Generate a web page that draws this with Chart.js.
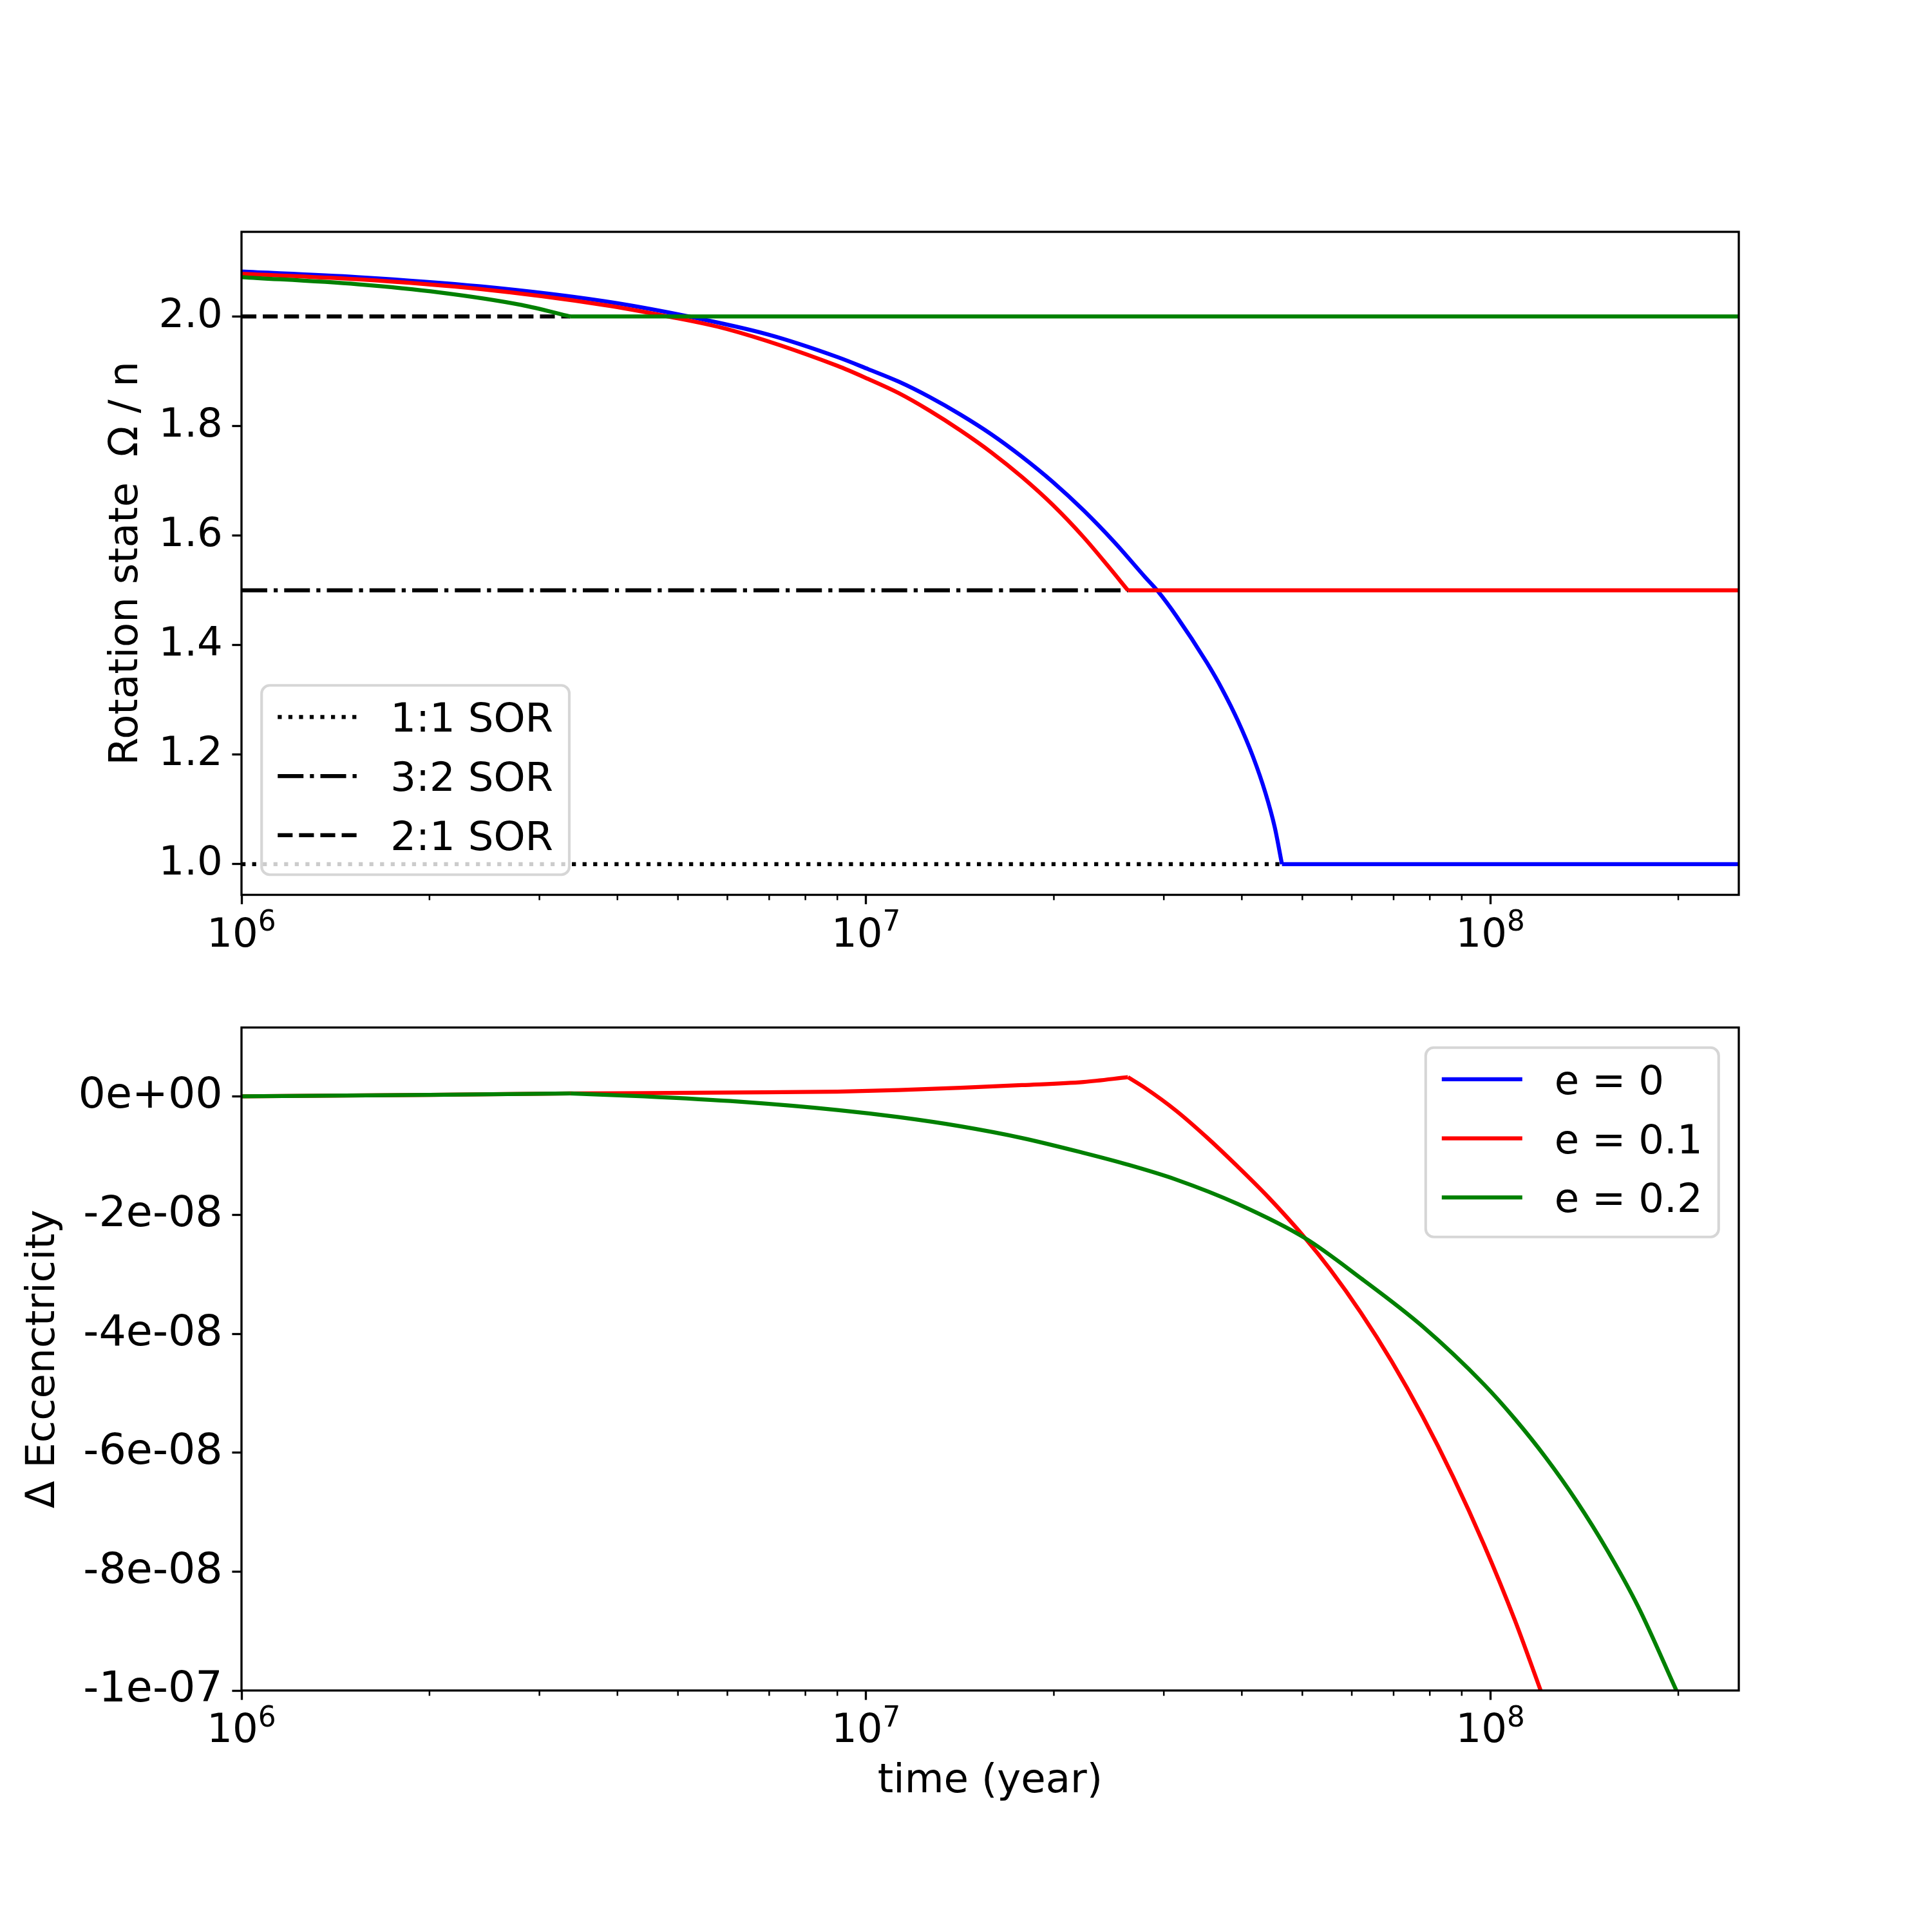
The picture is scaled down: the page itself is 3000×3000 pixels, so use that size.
<!DOCTYPE html>
<html>
<head>
<meta charset="utf-8">
<script src="https://cdn.jsdelivr.net/npm/chart.js@4.4.1/dist/chart.umd.min.js"></script>
<style>
  html, body { margin: 0; padding: 0; background: #fff; }
  #wrap { position: relative; width: 3000px; height: 3000px; background: #fff; }
  canvas { position: absolute; left: 0; }
</style>
</head>
<body>
<div id="wrap">
  <canvas id="rotChart" width="3000" height="1500" style="top:0"></canvas>
  <canvas id="eccChart" width="3000" height="1500" style="top:1500px"></canvas>
</div>
<script>
// ---- rotation state (top panel) ----
const blueTime  = [1e6, 1.533e6, 2.415e6, 3.805e6, 5.152e6, 6.975e6, 9.0e6, 1.008e7, 1.129e7, 1.265e7, 1.417e7, 1.588e7, 1.778e7, 1.992e7, 2.232e7, 2.5e7, 2.801e7, 2.932e7, 3.138e7, 3.516e7, 3.722e7, 3.938e7, 4.169e7, 4.364e7, 4.515e7, 4.638e7, 2.5e8];
const blueRot   = [2.082, 2.072, 2.055, 2.028, 2.001, 1.967, 1.926, 1.904, 1.881, 1.853, 1.821, 1.785, 1.744, 1.698, 1.646, 1.588, 1.524, 1.499, 1.454, 1.368, 1.319, 1.263, 1.196, 1.130, 1.068, 1.0, 1.0];
const blueBreaks = [25];   // capture into 1:1

const redTime   = [1e6, 1.533e6, 2.415e6, 3.805e6, 4.775e6, 5.995e6, 9.0e6, 1.008e7, 1.129e7, 1.265e7, 1.417e7, 1.588e7, 1.778e7, 1.992e7, 2.232e7, 2.444e7, 2.628e7, 2.5e8];
const redRot    = [2.078, 2.068, 2.050, 2.021, 2.001, 1.977, 1.910, 1.886, 1.860, 1.828, 1.792, 1.752, 1.707, 1.656, 1.597, 1.544, 1.5, 1.5];
const redBreaks = [16];    // capture into 3:2

const greenTime = [1e6, 1.533e6, 2.076e6, 2.811e6, 3.362e6, 2.5e8];
const greenRot  = [2.072, 2.059, 2.044, 2.021, 2.0, 2.0];
const greenBreaks = [4];   // capture into 2:1

// spin-orbit resonance levels
const sor11Time = [1e6, 4.638e7], sor11Rot = [1.0, 1.0];
const sor32Time = [1e6, 2.628e7], sor32Rot = [1.5, 1.5];
const sor21Time = [1e6, 3.362e6], sor21Rot = [2.0, 2.0];

// ---- delta eccentricity (bottom panel) ----
const eccBlueTime  = [];
const eccBlue      = [];
const eccRedTime   = [1e6, 2e6, 3.362e6, 4.41e6, 6.27e6, 9.0e6, 1.129e7, 1.417e7, 1.778e7, 2.232e7, 2.628e7, 2.801e7, 3.138e7, 3.516e7, 3.938e7, 4.413e7, 5.056e7, 5.537e7, 6.203e7, 6.95e7, 7.785e7, 8.724e7, 9.772e7, 1.095e8, 1.204e8];
const eccRed       = [0, 2.5e-10, 5e-10, 5.5e-10, 6.5e-10, 8.0e-10, 1.07e-9, 1.43e-9, 1.89e-9, 2.42e-9, 3.23e-9, 1.40e-9, -2.40e-9, -6.9e-9, -1.18e-8, -1.70e-8, -2.39e-8, -2.91e-8, -3.64e-8, -4.46e-8, -5.38e-8, -6.41e-8, -7.55e-8, -8.82e-8, -1.0e-7];
const eccRedBreaks = [10];
const eccGreenTime = [1e6, 2e6, 3.362e6, 4.41e6, 6.27e6, 9.0e6, 1.129e7, 1.417e7, 1.778e7, 2.232e7, 2.628e7, 3.138e7, 3.938e7, 5.056e7, 6.203e7, 7.785e7, 9.772e7, 1.095e8, 1.227e8, 1.374e8, 1.539e8, 1.725e8, 1.986e8];
const eccGreen     = [0, 2.5e-10, 5e-10, 0, -9e-10, -2.3e-9, -3.5e-9, -5.04e-9, -7.01e-9, -9.52e-9, -1.15e-8, -1.40e-8, -1.81e-8, -2.39e-8, -3.06e-8, -3.87e-8, -4.85e-8, -5.43e-8, -6.08e-8, -6.81e-8, -7.64e-8, -8.59e-8, -1.0e-7];
const eccGreenBreaks = [2];

// ticks
const decadeTicks = [1e6, 1e7, 1e8];
const rotTicks = [1.0, 1.2, 1.4, 1.6, 1.8, 2.0];
const eccTicks = [0, -2e-8, -4e-8, -6e-8, -8e-8, -1e-7];

const FS = 62.5;   // 15pt at 300 dpi
const LW = 6.25;   // 1.5pt
const FONT = '"DejaVu Sans"';

Chart.defaults.font.family = FONT;
Chart.defaults.font.size = FS;
Chart.defaults.color = '#000';

const pts = (xs, ys) => xs.map((x, i) => ({x: x, y: ys[i]}));

const line = (label, xs, ys, color, extra) => Object.assign({
    label: label,
    data: pts(xs, ys),
    borderColor: color,
    backgroundColor: color,
    borderWidth: LW,
    pointRadius: 0,
    cubicInterpolationMode: 'monotone',
    fill: false,
    borderJoinStyle: 'round',
    clip: 0
}, extra || {});

// one series split at its kinks so the smoothing keeps the corners sharp
function series(label, xs, ys, breaks, color, extra) {
    const cuts = [0].concat(breaks, [xs.length - 1]);
    const out = [];
    for (let k = 0; k < cuts.length - 1; k++) {
        const a = cuts[k], b = cuts[k + 1];
        out.push(line(label, xs.slice(a, b + 1), ys.slice(a, b + 1), color, extra));
    }
    return out;
}

// spines, minor ticks, 10^n labels and the legend box
const frame = {
    id: 'frame',
    afterDatasetsDraw(chart, args, opts) {
        const ctx = chart.ctx;
        const a = chart.chartArea;
        const x = chart.scales.x;
        ctx.save();
        ctx.strokeStyle = '#000';
        ctx.lineWidth = 2.5;
        ctx.beginPath();
        for (let d = 6; d <= 8; d++) {
            for (let m = 2; m <= 9; m++) {
                const v = m * Math.pow(10, d);
                if (v > x.max) continue;
                const px = x.getPixelForValue(v);
                ctx.moveTo(px, a.bottom);
                ctx.lineTo(px, a.bottom + 8.33);
            }
        }
        ctx.stroke();

        ctx.fillStyle = '#000';
        ctx.textBaseline = 'alphabetic';
        ctx.textAlign = 'left';
        decadeTicks.forEach(v => {
            const n = String(Math.round(Math.log10(v)));
            const px = x.getPixelForValue(v);
            ctx.font = FS + 'px ' + FONT;
            const w1 = ctx.measureText('10').width;
            ctx.font = (FS * 0.7) + 'px ' + FONT;
            const w2 = ctx.measureText(n).width;
            const x0 = px - (w1 + w2) / 2;
            ctx.font = FS + 'px ' + FONT;
            ctx.fillText('10', x0, a.bottom + 80);
            ctx.font = (FS * 0.7) + 'px ' + FONT;
            ctx.fillText(n, x0 + w1, a.bottom + 55.7);
        });

        ctx.lineWidth = 3.33;
        ctx.strokeRect(a.left, a.top, a.right - a.left, a.bottom - a.top);

        const lg = opts.legend;
        if (lg) {
            ctx.font = FS + 'px ' + FONT;
            const ds = lg.items.map(name => chart.data.datasets.find(d => d.label === name));
            const textW = Math.max(...ds.map(d => ctx.measureText(d.label).width));
            const pad = 0.4 * FS, hl = 2 * FS, htp = 0.8 * FS, rowH = 0.968 * FS, sp = 0.5 * FS, axp = 0.5 * FS;
            const w = 2 * pad + hl + htp + textW;
            const h = 2 * pad + ds.length * rowH + (ds.length - 1) * sp;
            let left, top;
            if (lg.corner === 'lowerleft') {
                left = a.left + axp; top = a.bottom - axp - h;
            } else {
                left = a.right - axp - w; top = a.top + axp;
            }
            ctx.beginPath();
            ctx.roundRect(left, top, w, h, 0.2 * FS);
            ctx.fillStyle = 'rgba(255,255,255,0.8)';
            ctx.fill();
            ctx.lineWidth = 4.17;
            ctx.strokeStyle = 'rgba(204,204,204,0.8)';
            ctx.stroke();
            ds.forEach((d, i) => {
                const rowTop = top + pad + i * (rowH + sp);
                const ly = rowTop + 24;
                ctx.beginPath();
                ctx.setLineDash(d.borderDash || []);
                ctx.strokeStyle = d.borderColor;
                ctx.lineWidth = d.borderWidth;
                ctx.moveTo(left + pad, ly);
                ctx.lineTo(left + pad + hl, ly);
                ctx.stroke();
                ctx.setLineDash([]);
                ctx.fillStyle = '#000';
                ctx.fillText(d.label, left + pad + hl + htp, rowTop + 47);
            });
        }
        ctx.restore();
    }
};

const tickGrid = { drawOnChartArea: false, drawTicks: true, tickLength: 14.6, tickWidth: 3.33, tickColor: '#000' };

function xAxis(height, title) {
    return {
        type: 'logarithmic',
        min: 1e6,
        max: 2.5e8,
        afterBuildTicks: s => { s.ticks = decadeTicks.map(v => ({value: v})); },
        afterFit: s => { s.height = height; },
        grid: tickGrid,
        border: { display: false },
        ticks: { callback: () => '', autoSkip: false, maxRotation: 0 },
        title: title || { display: false }
    };
}

function yAxis(min, max, ticks, fmt, fontSize, title, titlePad) {
    return {
        type: 'linear',
        min: min,
        max: max,
        afterBuildTicks: s => { s.ticks = ticks.map(v => ({value: v})); },
        afterFit: s => { s.width = 375; },
        grid: tickGrid,
        border: { display: false },
        ticks: { padding: 14.6, callback: fmt, font: { size: fontSize } },
        title: { display: true, text: title, font: { size: FS }, padding: { top: titlePad, bottom: 0 } }
    };
}

const common = {
    responsive: false,
    animation: false,
    devicePixelRatio: 1,
    events: []
};

new Chart(document.getElementById('rotChart'), {
    type: 'line',
    data: {
        datasets: [].concat(
            series('e = 0', blueTime, blueRot, blueBreaks, '#0000ff', { order: 3 }),
            series('e = 0.1', redTime, redRot, redBreaks, '#ff0000', { order: 2 }),
            series('e = 0.2', greenTime, greenRot, greenBreaks, '#008000', { order: 1 }),
            [
                line('1:1 SOR', sor11Time, sor11Rot, '#000000', { order: 4, borderDash: [6.25, 10.3] }),
                line('3:2 SOR', sor32Time, sor32Rot, '#000000', { order: 4, borderDash: [40, 10, 6.25, 10] }),
                line('2:1 SOR', sor21Time, sor21Rot, '#000000', { order: 4, borderDash: [23.1, 10] })
            ]
        )
    },
    options: Object.assign({}, common, {
        layout: { padding: { top: 360, right: 300, left: 0, bottom: 0 } },
        scales: {
            x: xAxis(110.5),
            y: yAxis(0.9441, 2.1546, rotTicks, v => v.toFixed(1), FS, 'Rotation state  Ω / n', 159.5)
        },
        plugins: {
            legend: { display: false },
            tooltip: { enabled: false },
            frame: { legend: { items: ['1:1 SOR', '3:2 SOR', '2:1 SOR'], corner: 'lowerleft' } }
        }
    }),
    plugins: [frame]
});

const expFmt = v => v.toExponential(0).replace(/e([+-])(\d)$/, 'e$10$2');

new Chart(document.getElementById('eccChart'), {
    type: 'line',
    data: {
        datasets: [].concat(
            [line('e = 0', eccBlueTime, eccBlue, '#0000ff', { order: 3 })],
            series('e = 0.1', eccRedTime, eccRed, eccRedBreaks, '#ff0000', { order: 2 }),
            series('e = 0.2', eccGreenTime, eccGreen, eccGreenBreaks, '#008000', { order: 1 })
        )
    },
    options: Object.assign({}, common, {
        layout: { padding: { top: 95.5, right: 300, left: 0, bottom: 0 } },
        scales: {
            x: xAxis(375, { display: true, text: 'time (year)', padding: { top: 0, bottom: 195.5 } }),
            y: yAxis(-1e-7, 1.159e-8, eccTicks, expFmt, 66.7, 'Δ Eccenctricity', 30)
        },
        plugins: {
            legend: { display: false },
            tooltip: { enabled: false },
            frame: { legend: { items: ['e = 0', 'e = 0.1', 'e = 0.2'], corner: 'upperright' } }
        }
    }),
    plugins: [frame]
});
</script>
</body>
</html>
